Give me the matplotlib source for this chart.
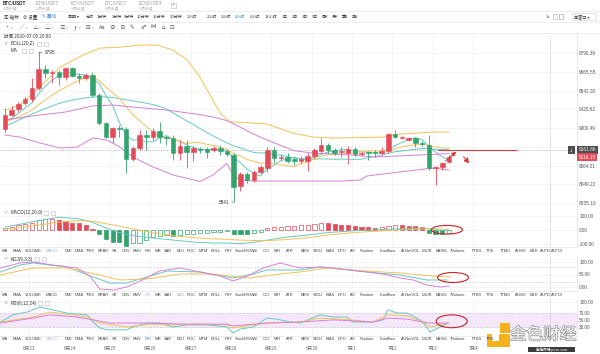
import matplotlib
matplotlib.use("Agg")
import matplotlib.pyplot as plt
import matplotlib.patheffects as pe
import matplotlib.transforms as mtransforms
from matplotlib.patches import Rectangle, Ellipse
from matplotlib.lines import Line2D
from matplotlib.ticker import NullLocator, NullFormatter

plt.rcParams["font.family"] = ["Noto Sans CJK SC", "DejaVu Sans"]
LATIN = ["Liberation Sans", "DejaVu Sans"]

# ---- BTC/USDT 4h candles ----
opens = [9294, 9384, 9422, 9461, 9487, 9558, 9684, 9657, 9664, 9631,
         9690, 9637, 9624, 9644, 9513, 9332, 9243, 9300, 9294, 9105,
         9174, 9256, 9243, 9281, 9243, 9240, 9143, 9187, 9149, 9168,
         9168, 9162, 9174, 9155, 9130, 8939, 9012, 8975, 9025, 9049,
         9162, 9112, 9118, 9105, 9093, 9093, 9124, 9155, 9193, 9162,
         9149, 9143, 9168, 9137, 9149, 9149, 9143, 9155, 9262, 9237,
         9224, 9237, 9206, 9193, 9049, 9056, 9087]
highs = [9429, 9442, 9467, 9500, 9624, 9795, 9710, 9677, 9677, 9697,
         9695, 9657, 9657, 9664, 9526, 9339, 9307, 9320, 9307, 9187,
         9288, 9288, 9300, 9339, 9256, 9256, 9224, 9224, 9187, 9180,
         9180, 9187, 9193, 9168, 9143, 9025, 9025, 9037, 9068, 9180,
         9180, 9137, 9143, 9118, 9124, 9143, 9174, 9237, 9206, 9174,
         9180, 9187, 9180, 9149, 9155, 9162, 9180, 9269, 9288, 9250,
         9243, 9243, 9218, 9256, 9060, 9087, 9130]
lows = [9275, 9377, 9403, 9448, 9467, 9545, 9624, 9591, 9578, 9611,
        9631, 9591, 9611, 9500, 9320, 9237, 9206, 9243, 9019, 9093,
        9162, 9162, 9224, 9206, 9193, 9099, 9099, 9049, 9093, 9143,
        9112, 9149, 9130, 9124, 8841, 8908, 8957, 8963, 9012, 9025,
        9080, 9099, 9080, 9068, 9080, 9031, 9112, 9143, 9143, 9130,
        9118, 9074, 9124, 9124, 9099, 9118, 9130, 9143, 9237, 9231,
        9218, 9180, 9187, 9037, 8945, 9037, 9080]
closes = [9384, 9416, 9455, 9487, 9558, 9684, 9657, 9664, 9631, 9690,
          9637, 9624, 9644, 9513, 9332, 9243, 9300, 9294, 9105, 9174,
          9256, 9243, 9281, 9243, 9237, 9143, 9187, 9149, 9174, 9162,
          9149, 9174, 9155, 9137, 8933, 9012, 8975, 9025, 9056, 9162,
          9112, 9118, 9093, 9093, 9105, 9124, 9162, 9193, 9162, 9143,
          9155, 9168, 9137, 9143, 9143, 9143, 9155, 9262, 9243, 9243,
          9237, 9206, 9199, 9049, 9056, 9080, 9116.15]

ma5 = [9345, 9362, 9395, 9430, 9462, 9522, 9570, 9610, 9640, 9665,
       9656, 9649, 9645, 9622, 9588, 9510, 9446, 9336, 9255, 9223,
       9226, 9214, 9212, 9239, 9252, 9229, 9218, 9192, 9178, 9167,
       9164, 9166, 9163, 9155, 9110, 9082, 9042, 9016, 9000, 9046,
       9066, 9095, 9108, 9116, 9104, 9107, 9115, 9135, 9149, 9157,
       9163, 9164, 9153, 9149, 9147, 9143, 9144, 9169, 9189, 9209,
       9228, 9238, 9226, 9187, 9149, 9118, 9100]
ma10 = [9340, 9355, 9372, 9392, 9415, 9450, 9482, 9512, 9540, 9563,
        9588, 9609, 9628, 9630, 9608, 9564, 9528, 9491, 9438, 9387,
        9349, 9311, 9274, 9247, 9238, 9228, 9217, 9202, 9209, 9208,
        9197, 9190, 9178, 9167, 9137, 9124, 9103, 9090, 9079, 9079,
        9075, 9069, 9063, 9059, 9076, 9087, 9106, 9123, 9134, 9132,
        9136, 9141, 9146, 9151, 9155, 9156, 9156, 9163, 9171, 9181,
        9189, 9193, 9199, 9190, 9181, 9175, 9171]
boll_mid = [9313, 9330, 9350, 9370, 9390, 9408, 9425, 9442, 9458, 9470,
            9480, 9488, 9495, 9500, 9502, 9500, 9497, 9490, 9482, 9475,
            9468, 9460, 9451, 9439, 9423, 9396, 9372, 9346, 9323, 9297,
            9273, 9250, 9226, 9207, 9187, 9175, 9159, 9146, 9143, 9143,
            9135, 9129, 9120, 9112, 9106, 9105, 9104, 9106, 9105, 9104,
            9104, 9104, 9103, 9104, 9114, 9121, 9130, 9141, 9151, 9155,
            9161, 9166, 9171, 9169, 9166, 9164, 9162]
ma30_t = [0, 4, 9, 13, 16, 19, 24, 29, 31, 33, 35, 37, 39, 41, 43, 46, 50, 55, 60, 66]
ma30_v = [9352, 9377, 9403, 9442, 9448, 9435, 9416, 9386, 9370, 9348,
          9305, 9261, 9224, 9190, 9157, 9141, 9135, 9118, 9127, 9139]
boll_up_t = [0, 2.2, 5.2, 8.2, 11.6, 14.1, 17.1, 20.1, 22.6, 25, 27.1, 29,
             30.9, 32, 33.4, 36, 38.9, 42.8, 45.8, 48.8, 52.8, 56.2, 58.7, 63.6, 66]
boll_up_v = [9416, 9448, 9565, 9697, 9777, 9824, 9830, 9844, 9844, 9810, 9744, 9628,
             9480, 9396, 9340, 9335, 9326, 9269, 9243, 9237, 9240, 9243, 9262, 9275, 9275]
boll_dn_t = [0, 2.2, 5.2, 8.2, 10.7, 13.1, 15.2, 17.1, 19, 22, 25, 29,
             30.9, 33, 34, 35, 36.9, 43.9, 49.8, 52.8, 53.8, 58.7, 63.6, 66]
boll_dn_v = [9256, 9243, 9206, 9174, 9180, 9237, 9224, 9180, 9118, 9056, 9006, 8966,
             9006, 9078, 9000, 8975, 8969, 8969, 8969, 8975, 9000, 9025, 9049, 9037]

macd_hist = [17, 24, 36, 43, 52, 71, 76, 79, 71, 62, 52, 48, 36, 7, -31, -67, -83, -85,
             -112, -95, -90, -71, -52, -40, -36, -43, -36, -31, -29, -24, -19, -17, -14,
             -5, -29, -31, -32, -24, -17, 12, 19, 24, 29, 31, 34, 36, 43, 52, 48, 43, 38,
             36, 29, 24, 19, 17, 24, 31, 36, 34, 31, 29, 19, -24, -26, -28, -22]
macd_t = [0, 4, 8, 11, 13, 15, 17, 19, 22, 25, 28, 31, 33, 35, 37, 39, 42, 45, 48, 52, 56, 60, 62, 64, 66]
dif_v = [21, 57, 92, 80, 55, 15, -20, -40, -57, -72, -86, -93, -93, -97, -88, -72,
         -50, -36, -18, -5, 3, 12, 14, 2, -6]
dea_v = [7, 29, 55, 68, 62, 45, 28, 8, -20, -40, -55, -63, -67, -72, -75, -76,
         -68, -55, -35, -18, -6, 4, 8, 8, 3]

j_t = [-0.7, 2.2, 4.2, 7.1, 10.7, 12.6, 14.1, 16.1, 18.1, 20.1, 23, 26, 29, 32, 33.9,
       36, 38.4, 40.9, 43.9, 46.8, 48.8, 53.8, 56.2, 58.7, 60.7, 62.7, 64.7, 66]
j_v = [76, 96, 100, 88, 76, 44, -8, -12, 0, 24, 64, 76, 60, 44, 24,
       44, 76, 96, 76, 80, 76, 60, 52, 36, 28, 8, 0, 4]
k_t = [-0.7, 2.2, 4.2, 9.2, 13.1, 15.6, 18.1, 21.1, 24.1, 29, 33.9, 36.9, 38.9,
       43.9, 46.8, 53.8, 58.7, 62.7, 65.7]
k_v = [60, 88, 96, 80, 40, 16, 16, 40, 64, 60, 36, 52, 68, 68, 80, 60, 48, 28, 28]
d_t = [-0.7, 4.2, 9.2, 14.1, 17.1, 21.1, 26, 30.5, 36.4, 40.9, 43.9, 47.9, 53.8,
       58.7, 63.6, 66.2]
d_v = [48, 76, 76, 48, 28, 32, 52, 52, 36, 52, 60, 76, 64, 56, 44, 40]

rsi6_t = [-0.7, 1.2, 3.3, 5.2, 9.2, 12.2, 13.1, 14.1, 15.2, 18.1, 19, 21.1, 23, 25,
          27.1, 30, 33, 33.9, 34.9, 36.9, 38.9, 40.4, 42.4, 43.9, 46.8, 48.8, 50.8,
          51.7, 54.7, 56.2, 56.9, 58.3, 59.8, 61.2, 62.1, 63.2, 64.7, 65.9]
rsi6_v = [44, 64, 72, 86, 69, 64, 44, 27, 22, 22, 30, 41, 41, 30, 36, 36, 30, 13, 24,
          30, 55, 52, 44, 41, 64, 58, 58, 44, 44, 50, 78, 69, 69, 55, 44, 16, 30, 41]
rsi12_t = [-0.7, 4.2, 6.7, 9.2, 12.2, 14.1, 18.1, 21.6, 25, 29, 33, 33.9, 36.9, 38.9,
           43.9, 46.8, 51.3, 54.7, 56.9, 59.8, 62.1, 63.2, 65.9]
rsi12_v = [44, 58, 72, 66, 58, 41, 30, 38, 36, 38, 36, 27, 36, 41, 44, 55, 50, 44, 64,
           61, 44, 30, 41]
rsi24_t = [-0.7, 4.2, 6.7, 10.7, 13.1, 15.6, 21.6, 27.1, 33, 33.9, 38.9, 43.9, 48.8,
           54.7, 56.9, 59.8, 62.1, 63.2, 65.9]
rsi24_v = [41, 55, 64, 58, 50, 41, 41, 38, 38, 33, 41, 44, 50, 44, 55, 52, 44, 41, 41]

day_labels = ["6月23", "6月24", "6月25", "6月26", "6月27", "6月28",
              "6月29", "6月30", "7月1", "7月2", "7月3", "7月4"]
first_day_bar = 3.6   # candle index where 6月23 starts
bars_per_day = 6

price_ticks = [9790.39, 9665.55, 9542.30, 9420.62, 9300.49, 9181.51, 9064.01, 8949.22, 8835.10]
line_price = 9161.86
last_price = closes[-1]

UP, DOWN = "#e34b59", "#33a36e"
TEAL, ORANGE, PINK = "#66c9c4", "#f3c255", "#d580d8"
GRID = "#f0f0f0"
TXT = "#555555"

W, H = 600.0, 354.0
XMIN, XMAX = -0.74, 85.03
CROSS_X = 81

fig = plt.figure(figsize=(6, 3.54), dpi=100)


def add_pane(top, bottom):
    return fig.add_axes([0, 1 - bottom / H, 577 / W, (bottom - top) / H])


def ftext(x, y, s, size=3.6, color="#333333", **kw):
    kw.setdefault("va", "center")
    return fig.text(x / W, 1 - y / H, s, fontsize=size, color=color, **kw)


def fbox(x, y, w, h, **kw):
    fig.add_artist(Rectangle((x / W, 1 - (y + h) / H), w / W, h / H,
                             transform=fig.transFigure, **kw))


def fline(x0, y0, x1, y1, **kw):
    fig.add_artist(Line2D([x0 / W, x1 / W], [1 - y0 / H, 1 - y1 / H],
                          transform=fig.transFigure, **kw))


day_pos = [first_day_bar + bars_per_day * k for k in range(len(day_labels))]


def style(ax, ylim, ticks, labels, log=False, gap=0.0):
    ax.set_xlim(XMIN, XMAX)
    if log:
        ax.set_yscale("log")
    ax.set_ylim(*ylim)
    ax.set_yticks(ticks, labels)
    ax.yaxis.set_minor_locator(NullLocator())
    ax.yaxis.set_minor_formatter(NullFormatter())
    ax.yaxis.tick_right()
    ax.tick_params(axis="y", length=0, labelsize=3.4, labelcolor=TXT, pad=1.5)
    for t in ax.get_yticklabels():
        t.set_family(LATIN)
    ax.set_xticks(day_pos)
    ax.tick_params(axis="x", length=0, labelbottom=False)
    ax.grid(True, color=GRID, lw=0.5)
    ax.set_axisbelow(True)
    for s in ["left", "top"]:
        ax.spines[s].set_visible(False)
    ax.spines["right"].set_color("#dedede")
    ax.spines["right"].set_linewidth(0.5)
    ax.spines["bottom"].set_color("#e4e4e4")
    ax.spines["bottom"].set_linewidth(0.5)
    ax.axvline(CROSS_X, ymin=-gap, ymax=1, color="#b5b5b5", lw=0.6,
               ls=(0, (1, 1.5)), clip_on=False)


# ---------------- main price pane ----------------
ax = add_pane(34, 205)
# the 9181.51 label sits under the price-line box, so only its grid line shows
price_labels = ["" if abs(v - line_price) < 25 else f"{v:.2f}" for v in price_ticks]
style(ax, (8823, 9919), price_ticks, price_labels, log=True, gap=0)
idx = list(range(len(closes)))
cols = [UP if c >= o else DOWN for o, c in zip(opens, closes)]
ax.vlines(idx, lows, highs, colors=cols, lw=0.6, zorder=3)
ax.bar(idx, [abs(c - o) for o, c in zip(opens, closes)], 0.68,
       [min(o, c) for o, c in zip(opens, closes)], color=cols, edgecolor=cols,
       lw=0.4, zorder=4)
ax.plot(boll_up_t, boll_up_v, color=ORANGE, lw=0.7, zorder=2)
ax.plot(idx, boll_mid, color=TEAL, lw=0.7, zorder=2)
ax.plot(boll_dn_t, boll_dn_v, color=PINK, lw=0.7, zorder=2)
ax.plot(idx, ma5, color=TEAL, lw=0.7, zorder=2)
ax.plot(idx, ma10, color=ORANGE, lw=0.7, zorder=2)
ax.plot(ma30_t, ma30_v, color=PINK, lw=0.7, zorder=2)

ax.axhline(line_price, color="#a8a8a8", lw=0.6, ls=(0, (1, 1.5)), zorder=1)
ax.hlines(line_price, 64.4, 76.1, color="#d63a40", lw=0.8, zorder=5)
ax.annotate("", xy=(67.4, 9163), xytext=(65.2, 9082),
            arrowprops=dict(arrowstyle="-|>,head_length=0.25,head_width=0.12",
                            color="#e0383c", lw=0.8), zorder=6)
ax.annotate("", xy=(69.3, 9064), xytext=(67.9, 9132),
            arrowprops=dict(arrowstyle="-|>,head_length=0.3,head_width=0.15",
                            color="#e0383c", lw=0.8, ls=(0, (2, 1))), zorder=6)

hi_i = highs.index(max(highs))
lo_i = lows.index(min(lows))
ax.annotate(f"{max(highs):.0f}", xy=(hi_i, max(highs)), xytext=(hi_i + 0.9, max(highs)),
            fontsize=3.3, color="#333333", va="center", ha="left", family=LATIN,
            arrowprops=dict(arrowstyle="-", lw=0.4, color="#333333", shrinkA=0, shrinkB=0))
ax.annotate(f"{min(lows):.0f}", xy=(lo_i, min(lows)), xytext=(lo_i - 0.7, min(lows)),
            fontsize=3.3, color="#333333", va="center", ha="right", family=LATIN,
            arrowprops=dict(arrowstyle="-", lw=0.4, color="#333333", shrinkA=0, shrinkB=0))

bt = mtransforms.blended_transform_factory(ax.transAxes, ax.transData)
ax.text(1.003, line_price, f"{line_price:.2f}", transform=bt, fontsize=3.4, color="white",
        va="center", ha="left", clip_on=False, zorder=8, family=LATIN,
        bbox=dict(boxstyle="square,pad=0.3", fc="#4d4d4d", ec="none"))
ax.text(0.994, line_price, "↓", transform=bt, fontsize=3.3, color="white",
        va="center", ha="right", clip_on=False, zorder=8,
        bbox=dict(boxstyle="square,pad=0.25", fc="#4d4d4d", ec="none"))
ax.text(1.003, last_price, f"{last_price:.2f}", transform=bt, fontsize=3.4, color="white",
        va="center", ha="left", clip_on=False, zorder=8, family=LATIN,
        bbox=dict(boxstyle="square,pad=0.3", fc=UP, ec="none"))

# ---------------- MACD pane ----------------
ax2 = add_pane(205, 247)
style(ax2, (-121.4, 178.6), [100, 0, -100], ["100.00", "0.00", "-100.00"], gap=9 / 42)
for i, v in enumerate(macd_hist):
    c = UP if v >= 0 else DOWN
    hollow = i == 0 or v > macd_hist[i - 1]
    ax2.bar(i, v, 0.62, color="white" if hollow else c, edgecolor=c, lw=0.5, zorder=3)
ax2.plot(macd_t, dif_v, color=TEAL, lw=0.7, zorder=4)
ax2.plot(macd_t, dea_v, color=ORANGE, lw=0.7, zorder=4)
ax2.add_patch(Ellipse((65.7, 2), 4.6, 62, fill=False, ec="#c5222a", lw=0.8, zorder=6))

# ---------------- KDJ pane ----------------
ax3 = add_pane(256, 291)
style(ax3, (-16, 124), [100, 50, 0], ["100.00", "50.00", "0.00"], gap=8 / 35)
for lvl in (80, 20):
    ax3.axhline(lvl, color="#cccccc", lw=0.5, ls=(0, (3, 2)))
ax3.plot(k_t, k_v, color=TEAL, lw=0.7)
ax3.plot(d_t, d_v, color=ORANGE, lw=0.7)
ax3.plot(j_t, j_v, color=PINK, lw=0.7)
ax3.add_patch(Ellipse((66.6, 38), 4.6, 40, fill=False, ec="#c5222a", lw=0.8, zorder=6))

# ---------------- RSI pane ----------------
ax4 = add_pane(299, 336)
style(ax4, (4.8, 108.4), [100, 70, 50, 30], ["100.00", "70.00", "50.00", "30.00"], gap=0)
ax4.axhspan(30, 70, color="#f5e7fb", zorder=0)
for lvl in (70, 30):
    ax4.axhline(lvl, color="#cccccc", lw=0.5, ls=(0, (3, 2)))
ax4.plot(rsi6_t, rsi6_v, color=TEAL, lw=0.7)
ax4.plot(rsi12_t, rsi12_v, color=ORANGE, lw=0.7)
ax4.plot(rsi24_t, rsi24_v, color=PINK, lw=0.7)
ax4.add_patch(Ellipse((66.4, 46), 4.6, 36, fill=False, ec="#c5222a", lw=0.8, zorder=6))
dt = mtransforms.blended_transform_factory(ax4.transData, ax4.transAxes)
for p, lab in zip(day_pos, day_labels):
    ax4.text(p, -0.35, lab, transform=dt, fontsize=3.3, color="#666666",
             ha="center", va="center", clip_on=False)

# ---------------- indicator tab rows ----------------
tabs = ["MA", "EMA", "VOLUME", "MACD", "DMI", "DMA", "TRIX", "BRAR", "VR", "OBV", "EMV",
        "RSI", "WR", "SAR", "KDJ", "ROC", "MTM", "BOLL", "PSY", "StochRSI", "SWI", "CCI",
        "MFI", "ATR", "BBIV", "SKDJ", "BIAS", "DPO", "AO", "Position", "Fundflow",
        "AI-NetVOL", "LSUR", "BASIS", "TVolume", "FTBS", "TTSI", "TTMU", "AI-BSI", "MLR",
        "AI-PD", "AI-FOI"]
tab_x = [5, 17, 33, 52, 68, 79, 90, 103, 115, 126, 137, 148, 158, 168, 180, 191, 203,
         216, 229, 243, 255, 266, 277, 290, 305, 318, 330, 342, 353, 367, 388, 411, 427,
         441, 458, 477, 490, 505, 521, 534, 545, 557]
# (row y, highlighted tabs, right limit: the last row is hidden behind the watermark)
tab_rows = [(251, {"MACD": "#8eaede"}, 600),
            (295, {"RSI": "#a9bbdc", "KDJ": "#6f9ae0"}, 600),
            (339, {"MACD": "#b4b4c6", "RSI": "#4a7fd8"}, 495)]
for y, hl, xmax in tab_rows:
    for name, x in zip(tabs, tab_x):
        if x < xmax:
            ftext(x, y, name, size=2.9, color=hl.get(name, "#444444"), ha="center",
                  family=LATIN)

# pane titles
for y, lab, bx in [(44, "BOLL(20,2)", 37), (51, "MA", 22), (213, "MACD(12,26,9)", 44),
                   (259, "KDJ(9,3,3)", 35), (303, "RSI(6,12,24)", 38)]:
    if lab != "MA":
        ftext(4, y, "∨", size=3.0, color="#666666")
    ftext(11, y, lab, size=3.3, color="#333333", family=LATIN)
    for dx in (0, 7):
        fbox(bx + dx, y - 2, 4, 4, fc="white", ec="#bbbbbb", lw=0.4)

ftext(4, 37, "时间 2020-07-05 20:00", size=3.3, color="#333333")

# ---------------- top toolbar ----------------
fline(0, 11, 600, 11, color="#e6e6e6", lw=0.5)
fline(0, 22, 600, 22, color="#e6e6e6", lw=0.5)
fline(0, 32.5, 600, 32.5, color="#e6e6e6", lw=0.5)
for x, sym, bold in [(3, "BTC/USDT", True), (36, "ETH/USDT", False), (71, "BCH/USDT", False),
                     (105, "LTC/USDT", False), (139, "EOS/USDT", False)]:
    ftext(x, 3.8, sym, size=3.3, color="#222222" if bold else "#999999", family=LATIN,
          ha="left", fontweight="bold" if bold else "normal")
    ftext(x, 8.2, "火币永续", size=2.6, color="#aaaaaa", ha="left")
fbox(171, 3, 5, 5, fc="white", ec="#bbbbbb", lw=0.4)
ftext(173.5, 5.4, "+", size=3.2, color="#888888", ha="center")

for x, lab, c in [(4, "▣ 指标", "#333333"), (23, "⚙ 设置", "#333333"), (42, "✎ 画线", "#3b78d8")]:
    ftext(x, 16.5, lab, size=3.3, color=c, ha="left")
periods = ["周期 ▾", "分时", "1分钟", "3分钟", "5分钟", "10分钟", "15分钟", "30分钟", "1小时",
           "2小时", "3小时", "4小时", "6小时", "12小时", "1日", "2日", "3日", "5日",
           "周K", "月K", "季K", "年K"]
period_x = [68, 86, 97, 112, 124, 137, 153, 170, 187, 207, 221, 235, 250, 265, 282, 292,
            302, 312, 322, 332, 342, 352]
for x, lab in zip(period_x, periods):
    ftext(x, 16.5, lab, size=2.9, color="#3b78d8" if lab == "4小时" else "#333333", ha="left")
ftext(546, 16.5, "1s", size=3.1, color="#555555", ha="left", family=LATIN)
# full-screen icon drawn as a dashed square
fbox(552.5, 14.5, 4, 4, fc="none", ec="#777777", lw=0.4, ls=(0, (1, 0.7)))
fbox(559, 14.5, 4, 4, fc="white", ec="#999999", lw=0.4)
fbox(572, 13, 24, 7, fc="white", ec="#cccccc", lw=0.4)
ftext(574, 16.5, "单窗口 ▾", size=3.0, color="#333333", ha="left")

icons = ["+", "╱", "∠", "△", "≡", "ƒ", "⊟", "Aa", "⊘", "∅", "✎", "♂", "⋈", "⌂", "⊡"]
icon_x = [7, 22, 35, 48, 62, 75, 88, 102, 112, 122, 132, 143, 153, 163, 172]
for k, (x, g) in enumerate(zip(icon_x, icons)):
    ftext(x, 27.5, g, size=4.0, color="#3b78d8" if k == 0 else "#555555", ha="center")
    if k < 7:
        ftext(x + 5, 28, "▾", size=2.3, color="#999999", ha="center")

# ---------------- watermark ----------------
fbox(500, 323, 10, 10, fc="#f5b21c", ec="none")
fbox(487, 334, 23, 13, fc="#f5b21c", ec="none")
fbox(492, 334, 7, 7, fc="white", ec="none")
wm = ftext(543, 335, "金色财经", size=12, color="#f7f7f7", ha="center")
wm.set_path_effects([pe.withStroke(linewidth=0.9, foreground="#8c8c8c")])
fbox(528, 346.5, 47, 5.5, fc="#3c3c3c", ec="none")
ftext(551.5, 349.2, "金色财经 jinse.com", size=2.6, color="white", ha="center")

fig.savefig("out.png", dpi=100)
